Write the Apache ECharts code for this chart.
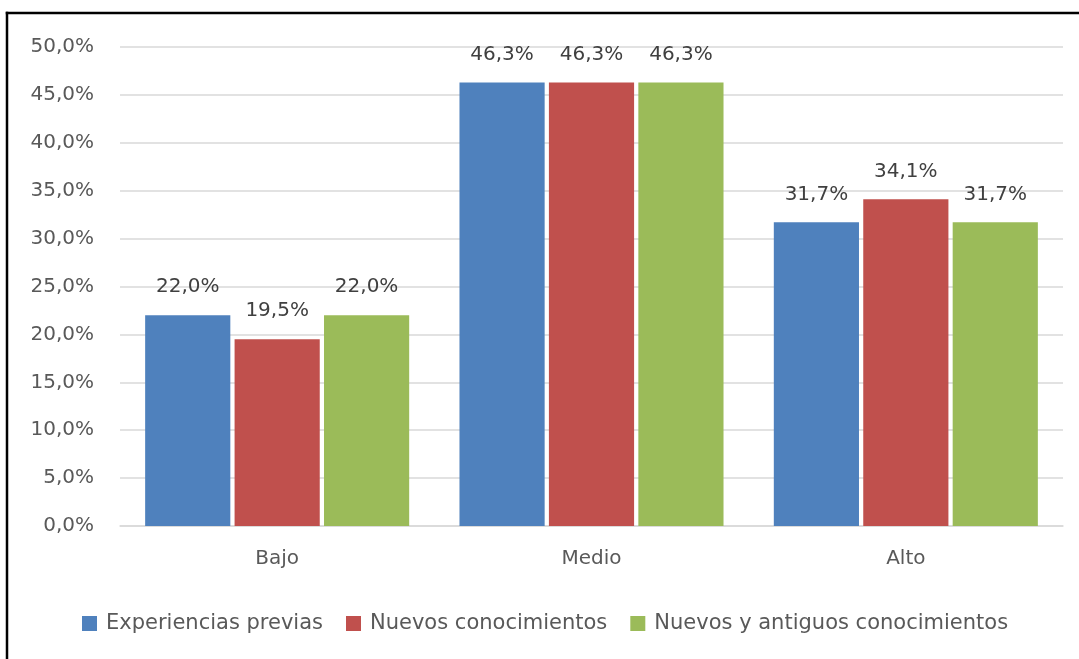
<!DOCTYPE html>
<html>
<head>
<meta charset="utf-8">
<script src="https://cdn.jsdelivr.net/npm/echarts@6/dist/echarts.min.js"></script>
<style>html,body{margin:0;padding:0;background:#fff;overflow:hidden}#c{width:1079px;height:659px}</style>
</head>
<body>
<div id="c"></div>
<script>
var categories = ['Bajo', 'Medio', 'Alto'];
var seriesNames = ['Experiencias previas', 'Nuevos conocimientos', 'Nuevos y antiguos conocimientos'];
var experiencias = [22.0, 46.3, 31.7];
var nuevos = [19.5, 46.3, 34.1];
var nuevosAntiguos = [22.0, 46.3, 31.7];
var colors = ['#4F81BD', '#C0504D', '#9BBB59'];

function fmt(v) { return v.toFixed(1).replace('.', ',') + '%'; }

var font = 'DejaVu Sans';
var chart = echarts.init(document.getElementById('c'));
var data = [experiencias, nuevos, nuevosAntiguos];
chart.setOption({
  animation: false,
  backgroundColor: '#fff',
  textStyle: { fontFamily: font },
  graphic: [
    { type: 'line', shape: { x1: 5.75, y1: 13, x2: 1079, y2: 13 }, style: { stroke: '#000', lineWidth: 2.5 }, z: 100 },
    { type: 'line', shape: { x1: 7, y1: 11.75, x2: 7, y2: 659 }, style: { stroke: '#000', lineWidth: 2.5 }, z: 100 }
  ],
  grid: { left: 120, right: 16, top: 47, bottom: 133 },
  legend: {
    left: 82, top: 613, padding: 0, itemWidth: 15, itemHeight: 15, itemGap: 23,
    icon: 'rect',
    textStyle: { fontFamily: font, fontSize: 21, color: '#595959', padding: [0, 0, 0, 4] },
    data: seriesNames
  },
  xAxis: {
    type: 'category', data: categories,
    axisLine: { lineStyle: { color: '#D9D9D9', width: 1.5 } },
    axisTick: { show: false },
    axisLabel: { fontFamily: font, fontSize: 20, color: '#595959', margin: 23 }
  },
  yAxis: {
    type: 'value', min: 0, max: 50, interval: 5,
    axisLine: { show: false }, axisTick: { show: false },
    splitLine: { lineStyle: { color: '#D9D9D9', width: 1.5 } },
    axisLabel: { fontFamily: font, fontSize: 20, color: '#595959', margin: 26, formatter: function (v) { return fmt(v); } }
  },
  series: seriesNames.map(function (n, i) {
    return {
      name: n, type: 'bar', data: data[i],
      barCategoryGap: '16%', barGap: '5%',
      itemStyle: { color: colors[i] },
      label: {
        show: true, position: 'top', distance: 18,
        fontFamily: font, fontSize: 20, color: '#404040',
        formatter: function (p) { return fmt(p.value); }
      }
    };
  })
});
</script>
</body>
</html>
